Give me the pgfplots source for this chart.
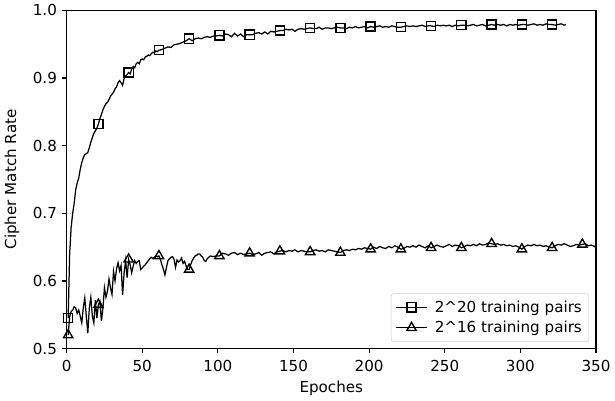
\documentclass[border=0pt]{standalone}
\usepackage{pgfplots}
\usepackage{pgfplotstable}
\pgfplotsset{compat=1.18}
\usepackage{fontspec}
\setmainfont{DejaVu Sans}

\pgfplotstableread{
x y
1 0.545
2 0.640
3 0.680
4 0.700
5 0.715
6 0.735
7 0.745
8 0.752
9 0.765
10 0.775
11 0.782
12 0.787
13 0.788
14 0.790
15 0.797
16 0.805
17 0.812
18 0.818
19 0.822
20 0.826
21 0.832
22 0.840
23 0.846
24 0.853
25 0.858
26 0.862
27 0.864
28 0.868
29 0.873
30 0.876
31 0.879
32 0.884
33 0.887
34 0.893
35 0.896
36 0.893
37 0.889
38 0.899
39 0.903
40 0.905
41 0.908
42 0.906
43 0.913
44 0.917
45 0.915
46 0.921
47 0.923
48 0.921
49 0.927
50 0.928
51 0.927
52 0.931
53 0.932
54 0.934
55 0.933
56 0.936
57 0.938
58 0.937
59 0.940
60 0.939
61 0.941
63 0.942
65 0.944
67 0.946
69 0.945
71 0.949
73 0.950
75 0.951
77 0.953
79 0.955
81 0.958
83 0.955
85 0.958
87 0.959
89 0.958
91 0.960
93 0.961
95 0.960
97 0.962
99 0.962
101 0.963
103 0.962
105 0.965
107 0.964
109 0.961
111 0.966
113 0.962
115 0.965
117 0.961
119 0.964
121 0.964
123 0.964
125 0.966
127 0.967
129 0.965
131 0.968
133 0.965
135 0.969
137 0.968
139 0.969
141 0.970
143 0.970
145 0.972
147 0.971
149 0.972
151 0.969
153 0.972
155 0.973
157 0.972
159 0.973
161 0.974
163 0.973
165 0.973
167 0.975
169 0.972
171 0.974
173 0.974
175 0.973
177 0.974
179 0.975
181 0.974
183 0.974
185 0.973
187 0.975
189 0.974
191 0.976
193 0.974
195 0.975
197 0.976
199 0.974
201 0.976
203 0.975
205 0.976
207 0.977
209 0.975
211 0.976
213 0.975
215 0.977
217 0.976
219 0.975
221 0.975
223 0.976
225 0.977
227 0.976
229 0.977
231 0.976
233 0.977
235 0.978
237 0.976
239 0.977
241 0.977
243 0.976
245 0.978
247 0.977
249 0.978
251 0.977
253 0.978
255 0.976
257 0.978
259 0.977
261 0.978
263 0.978
265 0.977
267 0.978
269 0.979
271 0.977
273 0.978
275 0.979
277 0.977
279 0.978
281 0.979
283 0.978
285 0.979
287 0.978
289 0.979
291 0.977
293 0.979
295 0.978
297 0.979
299 0.978
301 0.979
303 0.979
305 0.978
307 0.979
309 0.980
311 0.978
313 0.979
315 0.978
317 0.980
319 0.979
321 0.979
323 0.978
325 0.979
327 0.980
329 0.978
330 0.979
}\sqline

\pgfplotstableread{
x y
1 0.545
21 0.832
41 0.908
61 0.941
81 0.958
101 0.963
121 0.964
141 0.970
161 0.974
181 0.974
201 0.976
221 0.975
241 0.977
261 0.978
281 0.979
301 0.979
321 0.979
}\sqmarks

\pgfplotstableread{
x y
1 0.520
2 0.547
3 0.555
4 0.557
5 0.562
6 0.560
7 0.552
8 0.557
9 0.548
10 0.538
11 0.560
12 0.575
13 0.548
14 0.523
15 0.560
16 0.576
17 0.548
18 0.538
19 0.572
20 0.545
21 0.565
22 0.570
23 0.541
24 0.560
25 0.590
26 0.576
27 0.585
28 0.603
29 0.590
30 0.580
31 0.614
32 0.600
33 0.618
34 0.627
35 0.615
36 0.623
37 0.579
38 0.612
39 0.630
40 0.605
41 0.632
42 0.624
43 0.612
44 0.622
45 0.630
46 0.626
47 0.629
48 0.630
49 0.617
50 0.619
51 0.622
52 0.624
53 0.627
54 0.630
55 0.633
56 0.635
57 0.633
58 0.635
59 0.637
60 0.636
61 0.637
62 0.632
63 0.624
64 0.617
65 0.609
66 0.620
67 0.630
68 0.633
69 0.635
70 0.636
71 0.632
72 0.620
73 0.631
74 0.628
75 0.630
76 0.634
77 0.626
78 0.629
79 0.622
80 0.617
81 0.617
82 0.624
83 0.630
84 0.634
85 0.637
86 0.638
87 0.640
88 0.640
89 0.637
90 0.635
91 0.630
92 0.629
93 0.633
95 0.637
97 0.636
99 0.637
101 0.637
103 0.641
105 0.640
107 0.638
109 0.641
111 0.642
113 0.639
115 0.641
117 0.639
119 0.640
121 0.641
123 0.639
125 0.640
127 0.642
129 0.638
131 0.641
133 0.642
135 0.643
137 0.640
139 0.643
141 0.644
143 0.645
145 0.643
147 0.645
149 0.644
151 0.646
153 0.643
155 0.645
157 0.644
159 0.643
161 0.643
163 0.645
165 0.646
167 0.644
169 0.645
171 0.643
173 0.646
175 0.645
177 0.644
179 0.643
181 0.642
183 0.645
185 0.646
187 0.645
189 0.647
191 0.646
193 0.648
195 0.647
197 0.649
199 0.648
201 0.647
203 0.650
205 0.648
207 0.651
209 0.649
211 0.648
213 0.651
215 0.649
217 0.652
219 0.650
221 0.647
223 0.648
225 0.651
227 0.650
229 0.652
231 0.650
233 0.653
235 0.651
237 0.649
239 0.652
241 0.649
243 0.651
245 0.653
247 0.651
249 0.650
251 0.652
253 0.654
255 0.651
257 0.653
259 0.652
261 0.649
263 0.651
265 0.653
267 0.652
269 0.654
271 0.652
273 0.655
275 0.653
277 0.654
279 0.656
281 0.655
283 0.654
285 0.655
287 0.653
289 0.654
291 0.652
293 0.653
295 0.651
297 0.652
299 0.650
301 0.647
303 0.651
305 0.653
307 0.652
309 0.654
311 0.652
313 0.653
315 0.651
317 0.652
319 0.650
321 0.649
323 0.652
325 0.654
327 0.653
329 0.655
331 0.653
333 0.651
335 0.652
337 0.654
339 0.653
341 0.654
343 0.655
345 0.652
347 0.653
349 0.651
350 0.650
}\triline

\pgfplotstableread{
x y
1 0.520
21 0.565
41 0.632
61 0.637
81 0.617
101 0.637
121 0.641
141 0.644
161 0.643
181 0.642
201 0.647
221 0.647
241 0.649
261 0.649
281 0.655
301 0.647
321 0.649
341 0.654
}\trimarks

\begin{document}
\begin{tikzpicture}
\begin{axis}[
  scale only axis,
  width=383bp, height=244.8bp,
  xmin=0, xmax=350, ymin=0.5, ymax=1.0,
  xtick={0,50,...,350},
  ytick={0.5,0.6,0.7,0.8,0.9,1.0},
  yticklabel style={/pgf/number format/.cd, fixed, fixed zerofill, precision=1},
  xticklabel style={yshift=-1.5bp},
  /pgf/number format/assume math mode=true,
  tick align=outside,
  major tick length=3.5bp,
  xtick pos=bottom, ytick pos=left,
  axis line style={line width=0.8bp},
  every tick/.style={black, line width=0.8bp},
  tick label style={font=\fontsize{11}{13}\selectfont},
  label style={font=\fontsize{11}{13}\selectfont},
  xlabel={Epoches},
  ylabel={Cipher Match Rate},
  xlabel style={yshift=0bp},
  ylabel style={yshift=3bp},
  legend style={at={(1,0)}, anchor=south east, xshift=-5bp, yshift=5bp,
    draw=black!20, rounded corners=2bp, fill=white, fill opacity=0.8, text opacity=1,
    font=\fontsize{11}{13}\selectfont, row sep=1bp, column sep=3bp, inner sep=3bp},
  legend cell align=left,
]
\addplot[black, line width=0.9bp, no marks, forget plot] table {\sqline};
\addplot[black, only marks, mark=square, mark size=3.3bp, mark options={line width=1bp, fill=none}, forget plot] table {\sqmarks};
\addplot[black, line width=0.9bp, no marks, forget plot] table {\triline};
\addplot[black, only marks, mark=triangle, mark size=3.9bp, mark options={line width=1bp, fill=none}, forget plot] table {\trimarks};
\addlegendimage{black, line width=0.9bp, mark=square, mark size=3.3bp, mark options={line width=1bp},
  legend image code/.code={\draw[mark repeat=2,mark phase=2] plot coordinates {(0cm,0cm)(0.4cm,0cm)(0.8cm,0cm)};}}
\addlegendentry{2\textasciicircum 20 training pairs}
\addlegendimage{black, line width=0.9bp, mark=triangle, mark size=3.9bp, mark options={line width=1bp},
  legend image code/.code={\draw[mark repeat=2,mark phase=2] plot coordinates {(0cm,0cm)(0.4cm,0cm)(0.8cm,0cm)};}}
\addlegendentry{2\textasciicircum 16 training pairs}
\end{axis}
\end{tikzpicture}
\end{document}
